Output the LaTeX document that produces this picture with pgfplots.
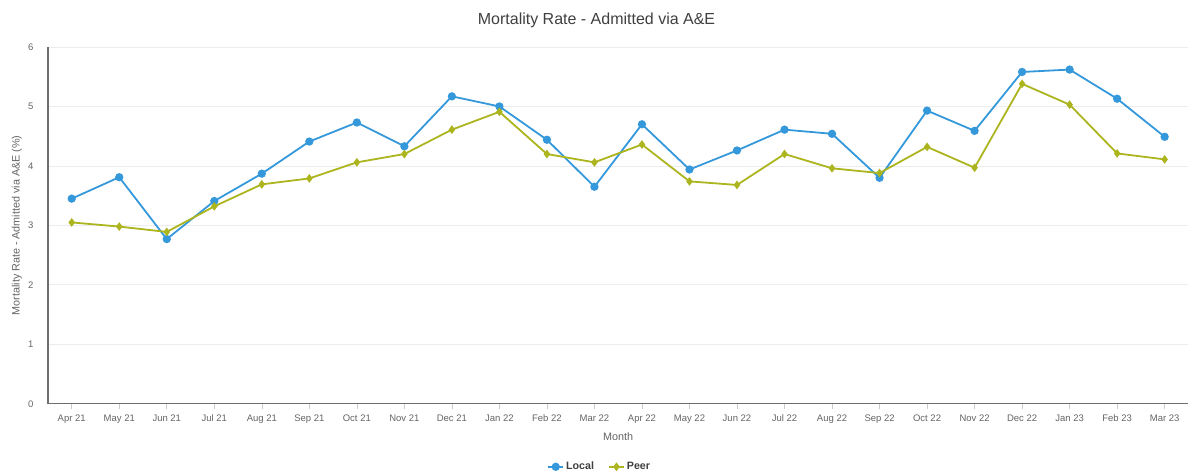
\documentclass[border=0pt]{standalone}
\usepackage{fontspec}
\setmainfont{Liberation Sans}
\usepackage{pgfplots}
\pgfplotsset{compat=1.18}

\definecolor{localblue}{RGB}{52,152,219}
\definecolor{peerolive}{RGB}{172,180,30}
\definecolor{axisgray}{RGB}{110,110,110}
\definecolor{textgray}{RGB}{100,100,100}
\definecolor{gridgray}{RGB}{236,236,236}

\begin{document}
\begin{tikzpicture}
\begin{axis}[
  at={(0,0)}, anchor=south west,
  scale only axis,
  width=1141pt, height=357pt,
  xmin=-0.5, xmax=23.5,
  ymin=0, ymax=6,
  ytick={0,1,2,3,4,5,6},
  xtick={0,...,23},
  xticklabels={Apr 21,May 21,Jun 21,Jul 21,Aug 21,Sep 21,Oct 21,Nov 21,Dec 21,Jan 22,Feb 22,Mar 22,Apr 22,May 22,Jun 22,Jul 22,Aug 22,Sep 22,Oct 22,Nov 22,Dec 22,Jan 23,Feb 23,Mar 23},
  /pgf/number format/assume math mode=true,
  axis x line*=bottom, axis y line*=left,
  axis line style={draw=axisgray, line width=1.2pt, -},
  ymajorgrids, major grid style={draw=gridgray, line width=0.8pt},
  y tick style={draw=none},
  x tick style={draw=gridgray!70!gray, line width=0.6pt},
  tick align=outside, major tick length=5pt,
  ticklabel style={font=\fontsize{9.5}{11}\selectfont, text=textgray},
  yticklabel style={xshift=-6pt},
  xticklabel style={yshift=-2pt, text height=7pt, text depth=2pt},
  title={Mortality Rate - Admitted via A\&E},
  title style={at={(axis description cs:0.481,1)}, anchor=center, yshift=21pt,
    font=\fontsize{16}{19}\selectfont, text=black!75},
  xlabel={Month},
  xlabel style={at={(axis description cs:0.5,-0.0924)}, anchor=center,
    font=\fontsize{10.8}{13}\selectfont, text=textgray},
  ylabel={Mortality Rate - Admitted via A\&E (\%)},
  ylabel style={at={(axis description cs:-0.0272,0.5)}, anchor=center, rotate=0,
    font=\fontsize{10.8}{13}\selectfont, text=textgray},
  legend style={at={(axis description cs:0.4838,-0.1765)}, anchor=center,
    draw=none, fill=none, legend columns=2,
    font=\bfseries\fontsize{10.7}{13}\selectfont, text=black!75,
    /tikz/every even column/.append style={column sep=12pt}},
  legend image code/.code={%
    \draw[#1, mark repeat=2, mark phase=2] plot coordinates {(0pt,0pt) (7.5pt,0pt) (15pt,0pt)};},
  clip=false,
]
\addplot[color=localblue, line width=1.8pt, mark=*, mark size=3.2pt,
  mark options={fill=localblue, draw=localblue}]
  coordinates {
  (0,3.45) (1,3.81) (2,2.77) (3,3.41) (4,3.87) (5,4.41) (6,4.73) (7,4.33)
  (8,5.17) (9,5.00) (10,4.44) (11,3.65) (12,4.70) (13,3.94) (14,4.26) (15,4.61)
  (16,4.54) (17,3.80) (18,4.93) (19,4.59) (20,5.58) (21,5.62) (22,5.13) (23,4.49)
  };
\addlegendentry{Local}
\addplot[color=peerolive, line width=1.8pt, mark=diamond*, mark size=2.9pt,
  mark options={fill=peerolive, draw=peerolive}]
  coordinates {
  (0,3.05) (1,2.98) (2,2.89) (3,3.32) (4,3.69) (5,3.79) (6,4.06) (7,4.20)
  (8,4.61) (9,4.91) (10,4.20) (11,4.06) (12,4.36) (13,3.74) (14,3.68) (15,4.20)
  (16,3.96) (17,3.88) (18,4.32) (19,3.97) (20,5.38) (21,5.03) (22,4.21) (23,4.11)
  };
\addlegendentry{Peer}
\end{axis}
\path[use as bounding box] (-48pt,-71pt) rectangle (1141pt,404pt);
\end{tikzpicture}
\end{document}
